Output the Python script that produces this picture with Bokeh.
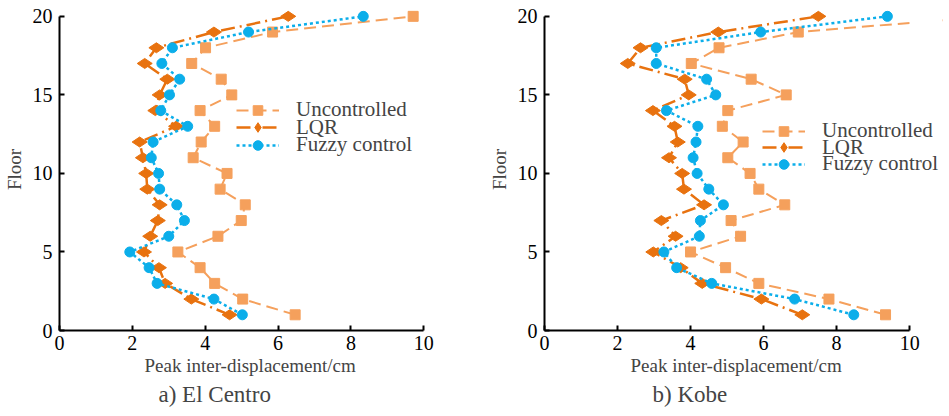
import math
from bokeh.plotting import figure
from bokeh.models import Range1d, Legend, LegendItem, Title, BoxAnnotation
from bokeh.layouts import row
from bokeh.embed import file_html
from bokeh.resources import INLINE

floors = [1, 2, 3, 4, 5, 6, 7, 8, 9, 10, 11, 12, 13, 14, 15, 16, 17, 18, 19, 20]

elc_unc = [6.47, 5.03, 4.26, 3.86, 3.25, 4.35, 4.99, 5.10, 4.41, 4.60,
           3.67, 3.89, 4.26, 3.86, 4.73, 4.44, 3.63, 4.01, 5.85, 9.71]
elc_lqr = [4.67, 3.62, 2.90, 2.73, 2.32, 2.49, 2.70, 2.75, 2.41, 2.38,
           2.29, 2.20, 3.20, 2.63, 2.75, 2.96, 2.34, 2.66, 4.24, 6.28]
elc_fuz = [5.02, 4.24, 2.68, 2.46, 1.93, 3.00, 3.43, 3.22, 2.75, 2.72,
           2.52, 2.57, 3.52, 2.78, 3.02, 3.30, 2.81, 3.10, 5.19, 8.34]

kobe_unc = [9.34, 7.79, 5.87, 4.96, 4.00, 5.37, 5.11, 6.58, 5.87, 5.63,
            5.02, 5.44, 4.87, 5.02, 6.62, 5.66, 4.02, 4.78, 6.95, 12.2]
kobe_lqr = [7.06, 5.94, 4.32, 3.73, 2.98, 3.59, 3.20, 4.37, 3.82, 3.77,
            3.41, 3.65, 3.56, 2.97, 3.95, 3.84, 2.28, 2.63, 4.76, 7.50]
kobe_fuz = [8.47, 6.85, 4.58, 3.62, 3.27, 4.24, 4.27, 4.90, 4.50, 4.18,
            4.07, 4.15, 4.20, 3.34, 4.69, 4.44, 3.06, 3.06, 5.92, 9.39]

x_ticks = [0, 2, 4, 6, 8, 10]
y_ticks = [0, 5, 10, 15, 20]
series_names = ["Uncontrolled", "LQR", "Fuzzy control"]
x_label = "Peak inter-displacement/cm"
y_label = "Floor"
titles = ["a) El Centro", "b) Kobe"]

FONT = "Liberation Serif"
C_UNC = "#F5A05C"
C_LQR = "#E8720F"
C_FUZ = "#0BAEEA"

X_MAX = 10
X_VIEW = 10.9   # frame extends past the axis so the legend text is not cut off


def make(unc, lqr, fuz, title, width, bl, br, leg_x, leg_ys, lab_off, tit_off):
    p = figure(width=width, height=416, output_backend="svg", toolbar_location=None,
               x_range=Range1d(0, X_VIEW), y_range=Range1d(0, 20.5),
               min_border_left=bl, min_border_right=br,
               min_border_top=8, min_border_bottom=86)
    p.outline_line_color = None
    p.grid.visible = False
    p.background_fill_color = "white"

    for ax in (p.xaxis, p.yaxis):
        ax.axis_line_width = 2
        ax.axis_line_color = "black"
        ax.major_tick_line_width = 2
        ax.major_tick_in = 5
        ax.major_tick_out = 0
        ax.minor_tick_line_color = None
        ax.major_label_text_font = FONT
        ax.major_label_text_font_size = "20px"
        ax.major_label_text_color = "black"
    p.xaxis.ticker = x_ticks
    p.yaxis.ticker = y_ticks
    p.xaxis.bounds = (0, X_MAX)
    p.yaxis.bounds = (0, 20)
    p.xaxis.major_label_standoff = 5
    p.yaxis.major_label_standoff = 7
    p.yaxis.axis_label = y_label
    p.yaxis.axis_label_text_font = FONT
    p.yaxis.axis_label_text_font_size = "19px"
    p.yaxis.axis_label_text_font_style = "normal"
    p.yaxis.axis_label_standoff = 5

    l1 = p.line(unc, floors, color=C_UNC, line_width=2, line_dash="12 6")
    s1 = p.scatter(unc, floors, marker="square", size=10, color=C_UNC)
    l2 = p.line(lqr, floors, color=C_LQR, line_width=2.5, line_dash="14 5 2 5")
    s2 = p.scatter(lqr, floors, marker="diamond", size=15, angle=math.pi / 2, color=C_LQR)
    l3 = p.line(fuz, floors, color=C_FUZ, line_width=2.5, line_dash="3 3")
    s3 = p.scatter(fuz, floors, marker="circle", size=10, color=C_FUZ)

    # clip the data at the end of the axis (x = 10), as in the original
    mask = BoxAnnotation(left=X_MAX, fill_color="white", fill_alpha=1,
                         line_color=None, level="glyph")
    p.add_layout(mask)

    for name, rends, vy in zip(series_names, [[l1, s1], [l2, s2], [l3, s3]], leg_ys):
        lg = Legend(items=[LegendItem(label=name, renderers=rends)],
                    location=(leg_x, vy), border_line_color=None,
                    background_fill_alpha=0, padding=0, margin=0, spacing=0,
                    glyph_width=43, glyph_height=24, label_height=24,
                    label_standoff=17, label_text_font=FONT,
                    label_text_font_size="21px")
        p.add_layout(lg)

    t1 = Title(text=x_label, align="left", offset=lab_off, standoff=0,
               text_font=FONT, text_font_size="19px", text_font_style="normal")
    t2 = Title(text=title, align="left", offset=tit_off, standoff=8,
               text_font=FONT, text_font_size="23px", text_font_style="normal")
    p.add_layout(t1, "below")
    p.add_layout(t2, "below")
    return p


p1 = make(elc_unc, elc_lqr, elc_fuz, titles[0], 474, 58, 18, 177, [208, 190.5, 173], 85, 99)
p2 = make(kobe_unc, kobe_lqr, kobe_fuz, titles[1], 475, 70, 7, 218, [187, 170.5, 154], 86, 108)

layout = row(p1, p2)
open("out.html", "w").write(file_html(layout, INLINE))
